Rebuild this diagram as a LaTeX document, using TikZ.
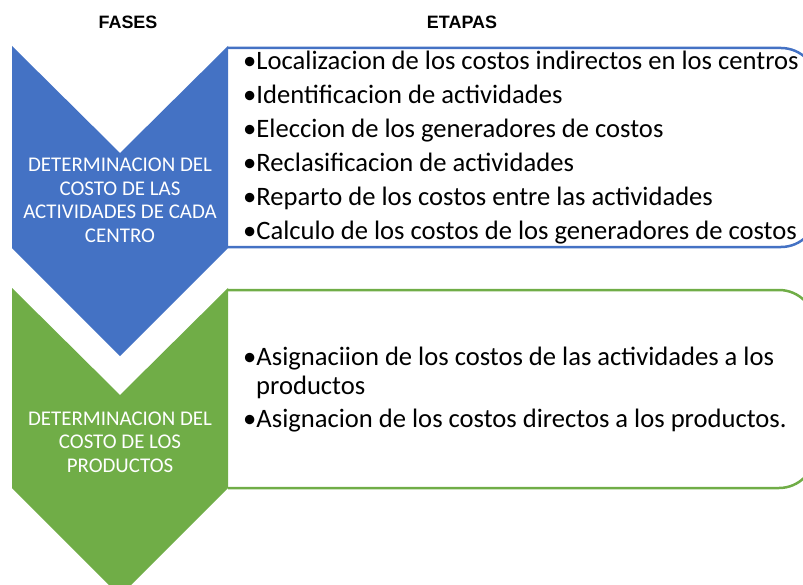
\documentclass[tikz,border=0pt]{standalone}
\usepackage{fontspec}
\setmainfont{Carlito}
\newfontfamily\hdrfont{Liberation Sans}
\definecolor{cblue}{HTML}{4472C4}
\definecolor{cgreen}{HTML}{70AD47}
\begin{document}
\begin{tikzpicture}[x=1bp,y=-1bp,
  header/.style={font=\hdrfont\bfseries\fontsize{18}{20}\selectfont, anchor=base, inner sep=0},
  phasetxt/.style={font=\fontsize{21}{23}\selectfont, text=white, anchor=base, inner sep=0},
  itemtxt/.style={font=\fontsize{26.7}{30}\selectfont, anchor=base west, inner sep=0},
  stagebox/.style={line width=2.5bp, rounded corners=36bp}]
\useasboundingbox (0,0) rectangle (803,585);
\clip (0,0) rectangle (803,585);
% headers
\node[header] (hf) at (128,29) {FASES};
\node[header] (he) at (462,29) {ETAPAS};
% stage boxes
\draw[stagebox, cblue] (228,48) -- (817,48) -- (817,247) -- (228,247);
\draw[stagebox, cgreen] (228,290) -- (815,290) -- (815,488) -- (228,488);
% chevrons
\fill[cblue] (12,46) -- (120,153) -- (228,46) -- (228,248) -- (120,356) -- (12,248) -- cycle;
\fill[cgreen] (12,288) -- (120,395) -- (228,288) -- (228,488) -- (120,596) -- (12,488) -- cycle;
% phase 1 text
\node[phasetxt] (p1a) at (120,172) {DETERMINACION DEL};
\node[phasetxt] (p1b) at (120,195.5) {COSTO DE LAS};
\node[phasetxt] (p1c) at (120,218.5) {ACTIVIDADES DE CADA};
\node[phasetxt] (p1d) at (120,242) {CENTRO};
% phase 2 text
\node[phasetxt] (p2a) at (120,425) {DETERMINACION DEL};
\node[phasetxt] (p2b) at (120,448.5) {COSTO DE LOS};
\node[phasetxt] (p2c) at (120,472) {PRODUCTOS};
% stage items 1
\node[itemtxt] (s1) at (243,70) {•Localizacion de los costos indirectos en los centros};
\node[itemtxt] (s2) at (243,104) {•Identificacion de actividades};
\node[itemtxt] (s3) at (243,138) {•Eleccion de los generadores de costos};
\node[itemtxt] (s4) at (243,172) {•Reclasificacion de actividades};
\node[itemtxt] (s5) at (243,206) {•Reparto de los costos entre las actividades};
\node[itemtxt] (s6) at (243,240) {•Calculo de los costos de los generadores de costos};
% stage items 2
\node[itemtxt] (t1) at (243,365) {•Asignaciion de los costos de las actividades a los};
\node[itemtxt] (t1b) at (256,394) {productos};
\node[itemtxt] (t2) at (243,427) {•Asignacion de los costos directos a los productos.};
\end{tikzpicture}
\end{document}
